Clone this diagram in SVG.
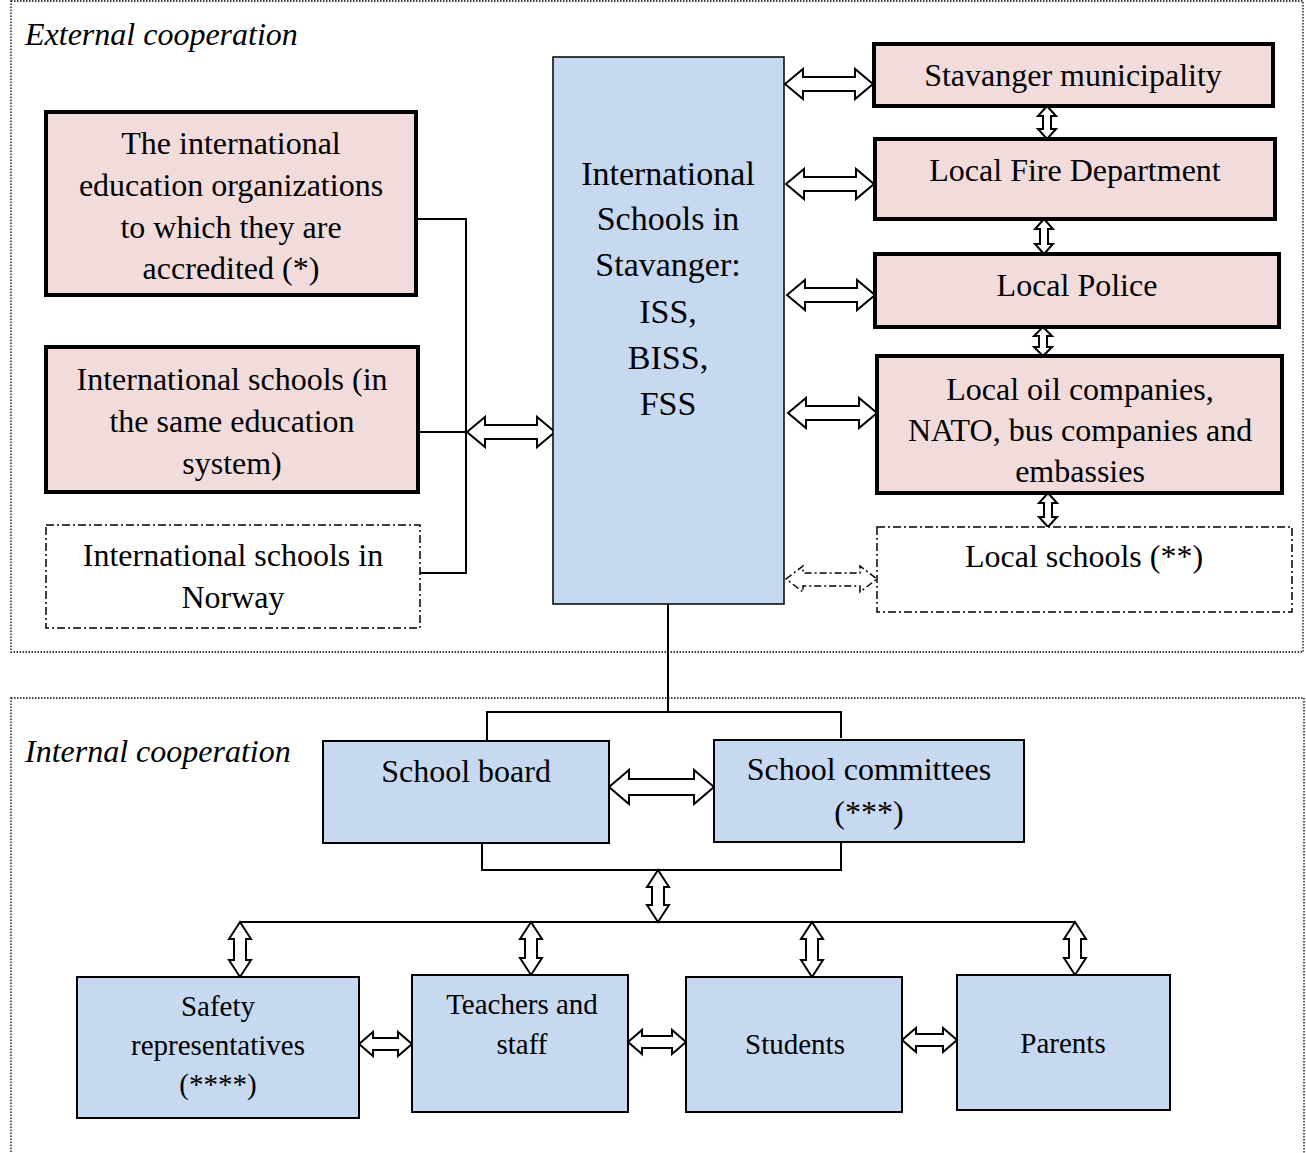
<svg xmlns="http://www.w3.org/2000/svg" width="1306" height="1153" viewBox="0 0 1306 1153">
<style>
.t{font-family:"Liberation Serif","Times New Roman",serif;font-size:32px;fill:#000;text-anchor:middle}
.big{font-size:34px}
.sm{font-size:29px}
.it{font-family:"Liberation Serif","Times New Roman",serif;font-size:32px;font-style:italic;fill:#000}
.pink{fill:#F2DCDB;stroke:#000;stroke-width:4}
.blue{fill:#C6D9F1;stroke:#000;stroke-width:2}
.dd{fill:#fff;stroke:#000;stroke-width:1.5;stroke-dasharray:8,3,2,3}
.frame{fill:none;stroke:#000;stroke-width:1.3;stroke-dasharray:1.5,1.5}
.ln{fill:none;stroke:#000;stroke-width:2}
.arr{fill:#fff;stroke:#000;stroke-width:2;stroke-linejoin:miter}
.arrd{fill:#fff;stroke:#000;stroke-width:1.5;stroke-dasharray:7,3,2,3}
</style>
<rect id="external-frame" class="frame" x="11" y="1" width="1292" height="651"/>
<text class="it" x="25" y="45">External cooperation</text>
<rect id="internal-frame" class="frame" x="11" y="698" width="1293" height="470"/>
<text class="it" x="25" y="762">Internal cooperation</text>

<g id="connectors">
<path class="ln" d="M416,219 H466 V573 H420 M418,432 H466"/>
<path class="arr" d="M467,432 L485,417 L485,425 L537,425 L537,417 L555,432 L537,447 L537,439 L485,439 L485,447 Z"/>
<path class="arr" d="M785,84 L803,69 L803,77 L855,77 L855,69 L873,84 L855,99 L855,91 L803,91 L803,99 Z"/>
<path class="arr" d="M786,184 L804,169 L804,177 L856,177 L856,169 L874,184 L856,199 L856,191 L804,191 L804,199 Z"/>
<path class="arr" d="M787,295 L805,280 L805,288 L857,288 L857,280 L875,295 L857,310 L857,302 L805,302 L805,310 Z"/>
<path class="arr" d="M788,413 L806,398 L806,406 L859,406 L859,398 L877,413 L859,428 L859,420 L806,420 L806,428 Z"/>
<path class="arrd" d="M786,579 L803,566 L803,573 L860,573 L860,566 L877,579 L860,592 L860,586 L803,586 L803,592 Z"/>
<path class="arr" d="M1047,106 L1056,116 L1051,116 L1051,129 L1056,129 L1047,139 L1038,129 L1043,129 L1043,116 L1038,116 Z"/>
<path class="arr" d="M1044,219 L1053,229 L1048,229 L1048,244 L1053,244 L1044,254 L1035,244 L1040,244 L1040,229 L1035,229 Z"/>
<path class="arr" d="M1043,327 L1052,336 L1047,336 L1047,347 L1052,347 L1043,356 L1034,347 L1039,347 L1039,336 L1034,336 Z"/>
<path class="arr" d="M1048,493 L1057,503 L1052,503 L1052,517 L1057,517 L1048,527 L1039,517 L1044,517 L1044,503 L1039,503 Z"/>
<path class="ln" d="M668,604 V712 M487,741 V712 H841 V738"/>
<path class="arr" d="M609,787 L629,770 L629,779 L694,779 L694,770 L714,787 L694,804 L694,795 L629,795 L629,804 Z"/>
<path class="ln" d="M482,843 V870 H841 V842"/>
<path class="arr" d="M658,870 L669,887 L664,887 L664,905 L669,905 L658,922 L647,905 L652,905 L652,887 L647,887 Z"/>
<path class="ln" d="M240,922 H1075"/>
<path class="arr" d="M240,922 L251,939 L246,939 L246,960 L251,960 L240,977 L229,960 L234,960 L234,939 L229,939 Z"/>
<path class="arr" d="M531,922 L542,939 L537,939 L537,958 L542,958 L531,975 L520,958 L525,958 L525,939 L520,939 Z"/>
<path class="arr" d="M812,922 L823,939 L818,939 L818,960 L823,960 L812,977 L801,960 L806,960 L806,939 L801,939 Z"/>
<path class="arr" d="M1075,922 L1086,939 L1081,939 L1081,958 L1086,958 L1075,975 L1064,958 L1069,958 L1069,939 L1064,939 Z"/>
<path class="arr" d="M359,1044 L373,1032 L373,1038 L398,1038 L398,1032 L412,1044 L398,1056 L398,1050 L373,1050 L373,1056 Z"/>
<path class="arr" d="M628,1042 L642,1030 L642,1036 L672,1036 L672,1030 L686,1042 L672,1054 L672,1048 L642,1048 L642,1054 Z"/>
<path class="arr" d="M902,1040 L916,1028 L916,1034 L943,1034 L943,1028 L957,1040 L943,1052 L943,1046 L916,1046 L916,1052 Z"/>
</g>

<g id="accreditation-orgs">
<rect class="pink" x="46" y="112" width="370" height="183"/>
<text class="t" x="231" y="154">The international</text>
<text class="t" x="231" y="196">education organizations</text>
<text class="t" x="231" y="238">to which they are</text>
<text class="t" x="231" y="279">accredited (*)</text>
</g>
<g id="intl-schools-same-system">
<rect class="pink" x="46" y="347" width="372" height="145"/>
<text class="t" x="232" y="390">International schools (in</text>
<text class="t" x="232" y="432">the same education</text>
<text class="t" x="232" y="474">system)</text>
</g>
<g id="intl-schools-norway">
<rect class="dd" x="46" y="525" width="374" height="103"/>
<text class="t" x="233" y="566">International schools in</text>
<text class="t" x="233" y="608">Norway</text>
</g>
<g id="intl-schools-stavanger">
<rect class="blue" x="553" y="57" width="231" height="547" style="stroke-width:1.5"/>
<text class="t big" x="668" y="185">International</text>
<text class="t big" x="668" y="230">Schools in</text>
<text class="t big" x="668" y="276">Stavanger:</text>
<text class="t big" x="668" y="323">ISS,</text>
<text class="t big" x="668" y="369">BISS,</text>
<text class="t big" x="668" y="415">FSS</text>
</g>
<g id="stavanger-municipality">
<rect class="pink" x="874" y="44" width="399" height="62"/>
<text class="t" x="1073" y="86">Stavanger municipality</text>
</g>
<g id="fire-department">
<rect class="pink" x="875" y="139" width="400" height="80"/>
<text class="t" x="1075" y="181">Local Fire Department</text>
</g>
<g id="police">
<rect class="pink" x="875" y="254" width="404" height="73"/>
<text class="t" x="1077" y="296">Local Police</text>
</g>
<g id="oil-nato-bus-embassies">
<rect class="pink" x="877" y="356" width="405" height="137"/>
<text class="t" x="1080" y="400">Local oil companies,</text>
<text class="t" x="1080" y="441">NATO, bus companies and</text>
<text class="t" x="1080" y="482">embassies</text>
</g>
<g id="local-schools">
<rect class="dd" x="877" y="527" width="415" height="85"/>
<text class="t" x="1084" y="567">Local schools (**)</text>
</g>

<g id="school-board">
<rect class="blue" x="323" y="741" width="286" height="102"/>
<text class="t" x="466" y="782">School board</text>
</g>
<g id="school-committees">
<rect class="blue" x="714" y="740" width="310" height="102"/>
<text class="t" x="869" y="780">School committees</text>
<text class="t" x="869" y="823">(***)</text>
</g>
<g id="safety-reps">
<rect class="blue" x="77" y="977" width="282" height="141"/>
<text class="t sm" x="218" y="1016">Safety</text>
<text class="t sm" x="218" y="1055">representatives</text>
<text class="t sm" x="218" y="1094">(****)</text>
</g>
<g id="teachers-staff">
<rect class="blue" x="412" y="975" width="216" height="137"/>
<text class="t sm" x="522" y="1014">Teachers and</text>
<text class="t sm" x="522" y="1054">staff</text>
</g>
<g id="students">
<rect class="blue" x="686" y="977" width="216" height="135"/>
<text class="t sm" x="795" y="1054">Students</text>
</g>
<g id="parents">
<rect class="blue" x="957" y="975" width="213" height="135"/>
<text class="t sm" x="1063" y="1053">Parents</text>
</g>
</svg>
